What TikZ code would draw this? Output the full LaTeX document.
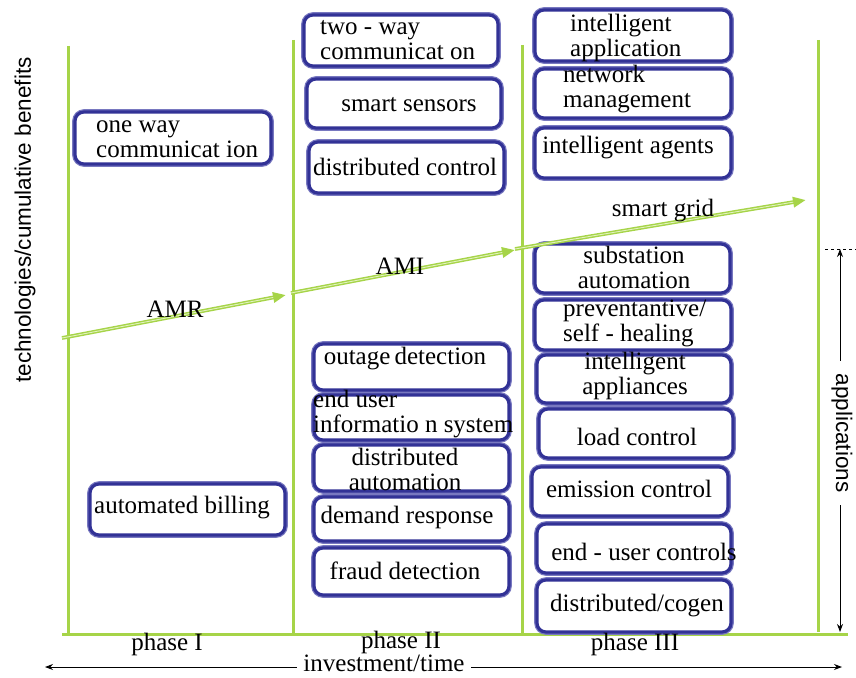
\documentclass[tikz,border=0pt]{standalone}
\usepackage{fontspec}
\setmainfont{Liberation Serif}
\newfontfamily\axisfont{Liberation Sans}
\usetikzlibrary{arrows.meta,fit}

\definecolor{gridgreen}{RGB}{166,212,72}
\definecolor{gridgreenlight}{RGB}{225,242,190}
\definecolor{boxblue}{RGB}{50,50,150}
\definecolor{boxhalo}{RGB}{120,120,192}

\tikzset{
  phaseline/.style={draw=gridgreen, line width=3pt},
  trendarrow/.style={draw=gridgreen, line width=3.8pt,
    -{Triangle[length=13pt,width=10pt]}},
  trendcore/.style={draw=gridgreenlight, line width=0.9pt, shorten >=13pt},
  appbox/.style={draw=boxblue, line width=3.2pt, rounded corners=9pt,
    fill=white, inner sep=0pt, preaction={draw=boxhalo, line width=5.6pt}},
  apptext/.style={font=\fontsize{25}{25}\selectfont, inner sep=0pt, align=center},
  apptextl/.style={apptext, align=left, anchor=west},
  phasetext/.style={font=\fontsize{25}{25}\selectfont, inner sep=0pt},
  axistext/.style={font=\axisfont\fontsize{22.5}{24}\selectfont, fill=white},
  axisarrow/.style={draw=black, line width=0.9pt},
}

\begin{document}
\begin{tikzpicture}[x=1pt, y=-1pt]
\useasboundingbox (0,0) rectangle (856,677);

% phase separators and base line
\coordinate (p1t) at (68,46);   \coordinate (p1b) at (68,634);
\coordinate (p2t) at (293,40);  \coordinate (p2b) at (293,634);
\coordinate (p3t) at (522,45);  \coordinate (p3b) at (522,634);
\coordinate (p4t) at (818,40);  \coordinate (p4b) at (818,632);
\coordinate (basel) at (62,634); \coordinate (baser) at (848,634);
\draw[phaseline] (p1t) -- (p1b);
\draw[phaseline] (p2t) -- (p2b);
\draw[phaseline] (p3t) -- (p3b);
\draw[phaseline] (p4t) -- (p4b);
\draw[phaseline] (basel) -- (baser);

% phase I
\node[appbox, fit={(75,112) (271,164)}] (oneway) {};
\node[appbox, fit={(90,484) (285,535)}] (billing) {};

% phase II
\node[appbox, fit={(304,15) (498,66)}] (twoway) {};
\node[appbox, fit={(307,79) (501,128)}] (sensors) {};
\node[appbox, fit={(309,142) (504,193)}] (distctrl) {};
\node[appbox, fit={(314,344) (509,390)}] (outage) {};
\node[appbox, fit={(314,395) (509,440)}] (enduser) {};
\node[appbox, fit={(314,445) (509,491)}] (distauto) {};
\node[appbox, fit={(314,497) (509,541)}] (demand) {};
\node[appbox, fit={(314,548) (509,595)}] (fraud) {};

% phase III
\node[appbox, fit={(535,10) (731,61)}] (intapp) {};
\node[appbox, fit={(535,69) (731,118)}] (netmgmt) {};
\node[appbox, fit={(535,128) (731,178)}] (agents) {};
\node[appbox, fit={(535,244) (730,293)}] (substation) {};
\node[appbox, fit={(535,300) (731,350)}] (preventive) {};
\node[appbox, fit={(537,355) (731,403)}] (appliances) {};
\node[appbox, fit={(539,409) (733,458)}] (load) {};
\node[appbox, fit={(532,467) (728,516)}] (emission) {};
\node[appbox, fit={(537,524) (731,573)}] (endctrl) {};
\node[appbox, fit={(537,580) (731,632)}] (cogen) {};

% growth path AMR -> AMI -> smart grid
\coordinate (amrs) at (62,338);  \coordinate (amre) at (286,295);
\coordinate (amis) at (291,293); \coordinate (amie) at (515,250);
\coordinate (sgs) at (515,249);  \coordinate (sge) at (806,200);
\draw[trendarrow] (amrs) -- (amre);
\draw[trendcore] (amrs) -- (amre);
\draw[trendarrow] (amis) -- (amie);
\draw[trendcore] (amis) -- (amie);
\draw[trendarrow] (sgs) -- (sge);
\draw[trendcore] (sgs) -- (sge);

\node[phasetext] (amr) at (175,309) {AMR};
\node[phasetext] (ami) at (400,266) {AMI};
\node[phasetext] (sg) at (663,211) {smart grid};

% box labels
\node[apptextl] (toneway) at (96,139) {one way\\communicat ion};
\node[apptext] (tbilling) at (182,508) {automated billing};

\node[apptextl] (ttwoway) at (320,40) {two - way\\communicat on};
\node[apptext] (tsensors) at (409,105) {smart sensors};
\node[apptext] (tdistctrl) at (405,167) {distributed control};
\node[apptext] (toutage) at (405,359) {outage\,detection};
\node[apptextl] (tenduser) at (313,414) {end user\\informatio n system};
\node[apptext] (tdistauto) at (405,469) {distributed\\automation};
\node[apptext] (tdemand) at (407,517) {demand response};
\node[apptext] (tfraud) at (405,571) {fraud detection};

\node[apptextl] (tintapp) at (570,38) {intelligent\\application};
\node[apptextl] (tnetmgmt) at (563,89) {network\\management};
\node[apptext] (tagents) at (628,148) {intelligent agents};
\node[apptext] (tsubstation) at (634,267) {substation\\automation};
\node[apptextl] (tpreventive) at (563,323) {preventantive/\\self - healing};
\node[apptext] (tappliances) at (635,376) {intelligent\\appliances};
\node[apptext] (tload) at (637,437) {load control};
\node[apptext] (temission) at (629,489) {emission control};
\node[apptext] (tendctrl) at (644,552) {end - user controls};
\node[apptext] (tcogen) at (637,606) {distributed/cogen};

% phase names
\node[phasetext] (ph1) at (167,644) {phase I};
\node[phasetext] (ph2) at (401,642) {phase II};
\node[phasetext] (ph3) at (635,644) {phase III};

% time axis
\coordinate (timel) at (45,667); \coordinate (timer) at (842,667);
\draw[axisarrow, {Stealth[length=8pt,width=6pt]}-{Stealth[length=8pt,width=6pt]}] (timel) -- (timer);
\node[phasetext, fill=white, inner xsep=6pt, inner ysep=0pt] (invest) at (384,663) {investment/time};

% applications span
\coordinate (appt) at (840,249); \coordinate (appb) at (840,632);
\coordinate (dashl) at (825,249); \coordinate (dashr) at (856,249);
\draw[axisarrow, dashed, line width=0.7pt] (dashl) -- (dashr);
\draw[axisarrow, {Stealth[length=8pt,width=6pt]}-{Stealth[length=8pt,width=6pt]}] (appt) -- (appb);
\node[axistext, rotate=-90, inner xsep=13pt, inner ysep=1pt] (apps) at (842,433) {applications};

% vertical axis title
\node[axistext, fill=none, rotate=90, inner sep=0pt] (benefits) at (25,220) {technologies/cumulative benefits};
\end{tikzpicture}
\end{document}
